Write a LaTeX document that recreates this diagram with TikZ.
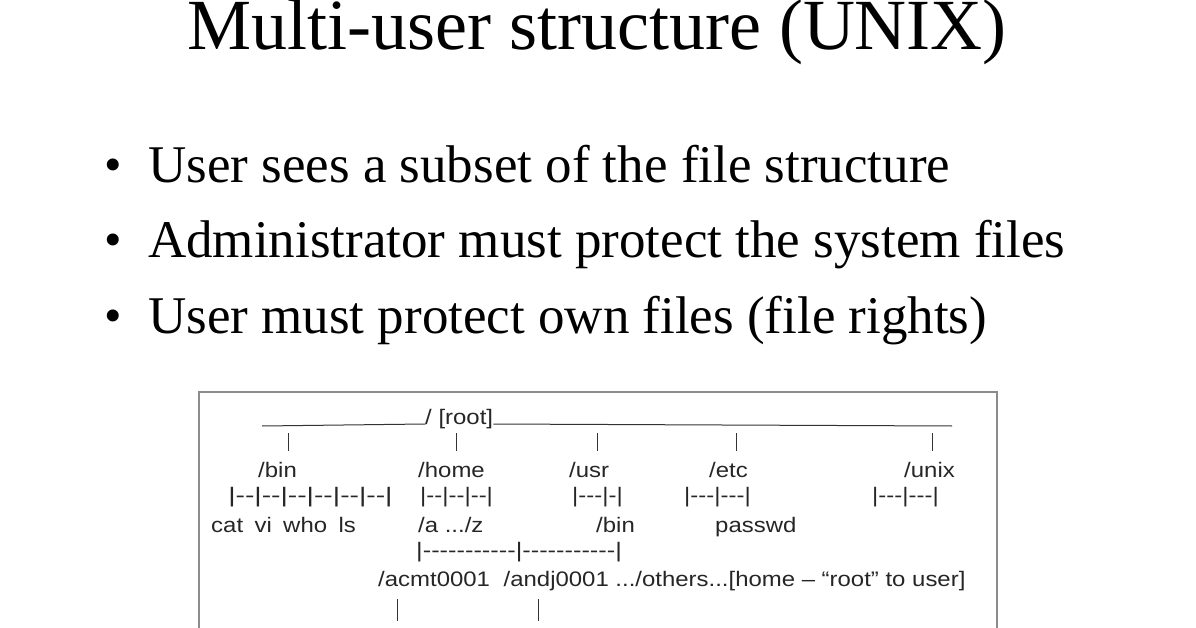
\documentclass[tikz,border=0pt]{standalone}
\usepackage{fontspec}
\setmainfont{Liberation Serif}
\newfontfamily\boxfont{Liberation Sans}
\begin{document}
\begin{tikzpicture}[x=1pt,y=-1pt,
  title/.style={anchor=base,inner sep=0,font=\fontsize{72}{72}\selectfont},
  bul/.style={anchor=base west,inner sep=0,font=\fontsize{53}{53}\selectfont},
  bdot/.style={anchor=base,inner sep=0,font=\fontsize{50}{50}\selectfont},
  t/.style={anchor=base west,inner sep=0,font=\boxfont\fontsize{21}{21}\selectfont,xscale=1.14,text=black!85},
  bar/.style={draw=black!80,line width=1pt}]
\useasboundingbox (0,0) rectangle (1196,628);
\fill[white] (0,0) rectangle (1196,628);
\node[title] (title) at (597,50) {Multi-user structure (UNIX)};
\node[bdot] (d1b) at (113,182) {\textbullet};
\node[bdot] (d2b) at (113,257) {\textbullet};
\node[bdot] (d3b) at (113,332) {\textbullet};
\node[bul] (b1) at (148,183) {User sees a subset of the file structure};
\node[bul] (b2) at (148,258) {Administrator must protect the system files};
\node[bul] (b3) at (148,333) {User must protect own files (file rights)};
\draw[draw=black!45,line width=1.5pt] (199,640) -- (199,392) -- (997,392) -- (997,640);
\node[t] (root) at (425,424) {/ [root]};
\coordinate (l1) at (262,426);
\coordinate (l2) at (952,426);
\draw[bar] (l1) -- (root.base west);
\draw[bar] (root.base east) -- (l2);
\foreach \x/\n in {288/v1,456/v2,597/v3,736/v4,932/v5}{
  \coordinate (\n a) at (\x,433); \coordinate (\n b) at (\x,451);
  \draw[bar] (\n a) -- (\n b);}
\node[t] (bin) at (258,477) {/bin};
\node[t] (home) at (418,477) {/home};
\node[t] (usr) at (569,477) {/usr};
\node[t] (etc) at (709,477) {/etc};
\node[t] (unix) at (904,477) {/unix};
\node[t,xscale=1.18] (d1) at (228,502) {|--|--|--|--|--|--|};
\node[t] (d2) at (420,502) {|--|--|--|};
\node[t] (d3) at (572,502) {|---|-|};
\node[t] (d4) at (684,502) {|---|---|};
\node[t] (d5) at (872,502) {|---|---|};
\node[t] (cmds) at (211,532) {cat\hspace{10pt}vi\hspace{10pt}who\hspace{10pt}ls};
\node[t] (az) at (418,532) {/a .../z};
\node[t] (ubin) at (596,532) {/bin};
\node[t] (pw) at (715,532) {passwd};
\node[t,xscale=1.06] (d6) at (416,557) {|-----------|-----------|};
\node[t] (users) at (378,586) {/acmt0001\hspace{12pt}/andj0001 .../others...[home – “root” to user]};
\foreach \x/\n in {397/w1,538/w2}{
  \coordinate (\n a) at (\x,599); \coordinate (\n b) at (\x,621);
  \draw[bar] (\n a) -- (\n b);}
\end{tikzpicture}
\end{document}
